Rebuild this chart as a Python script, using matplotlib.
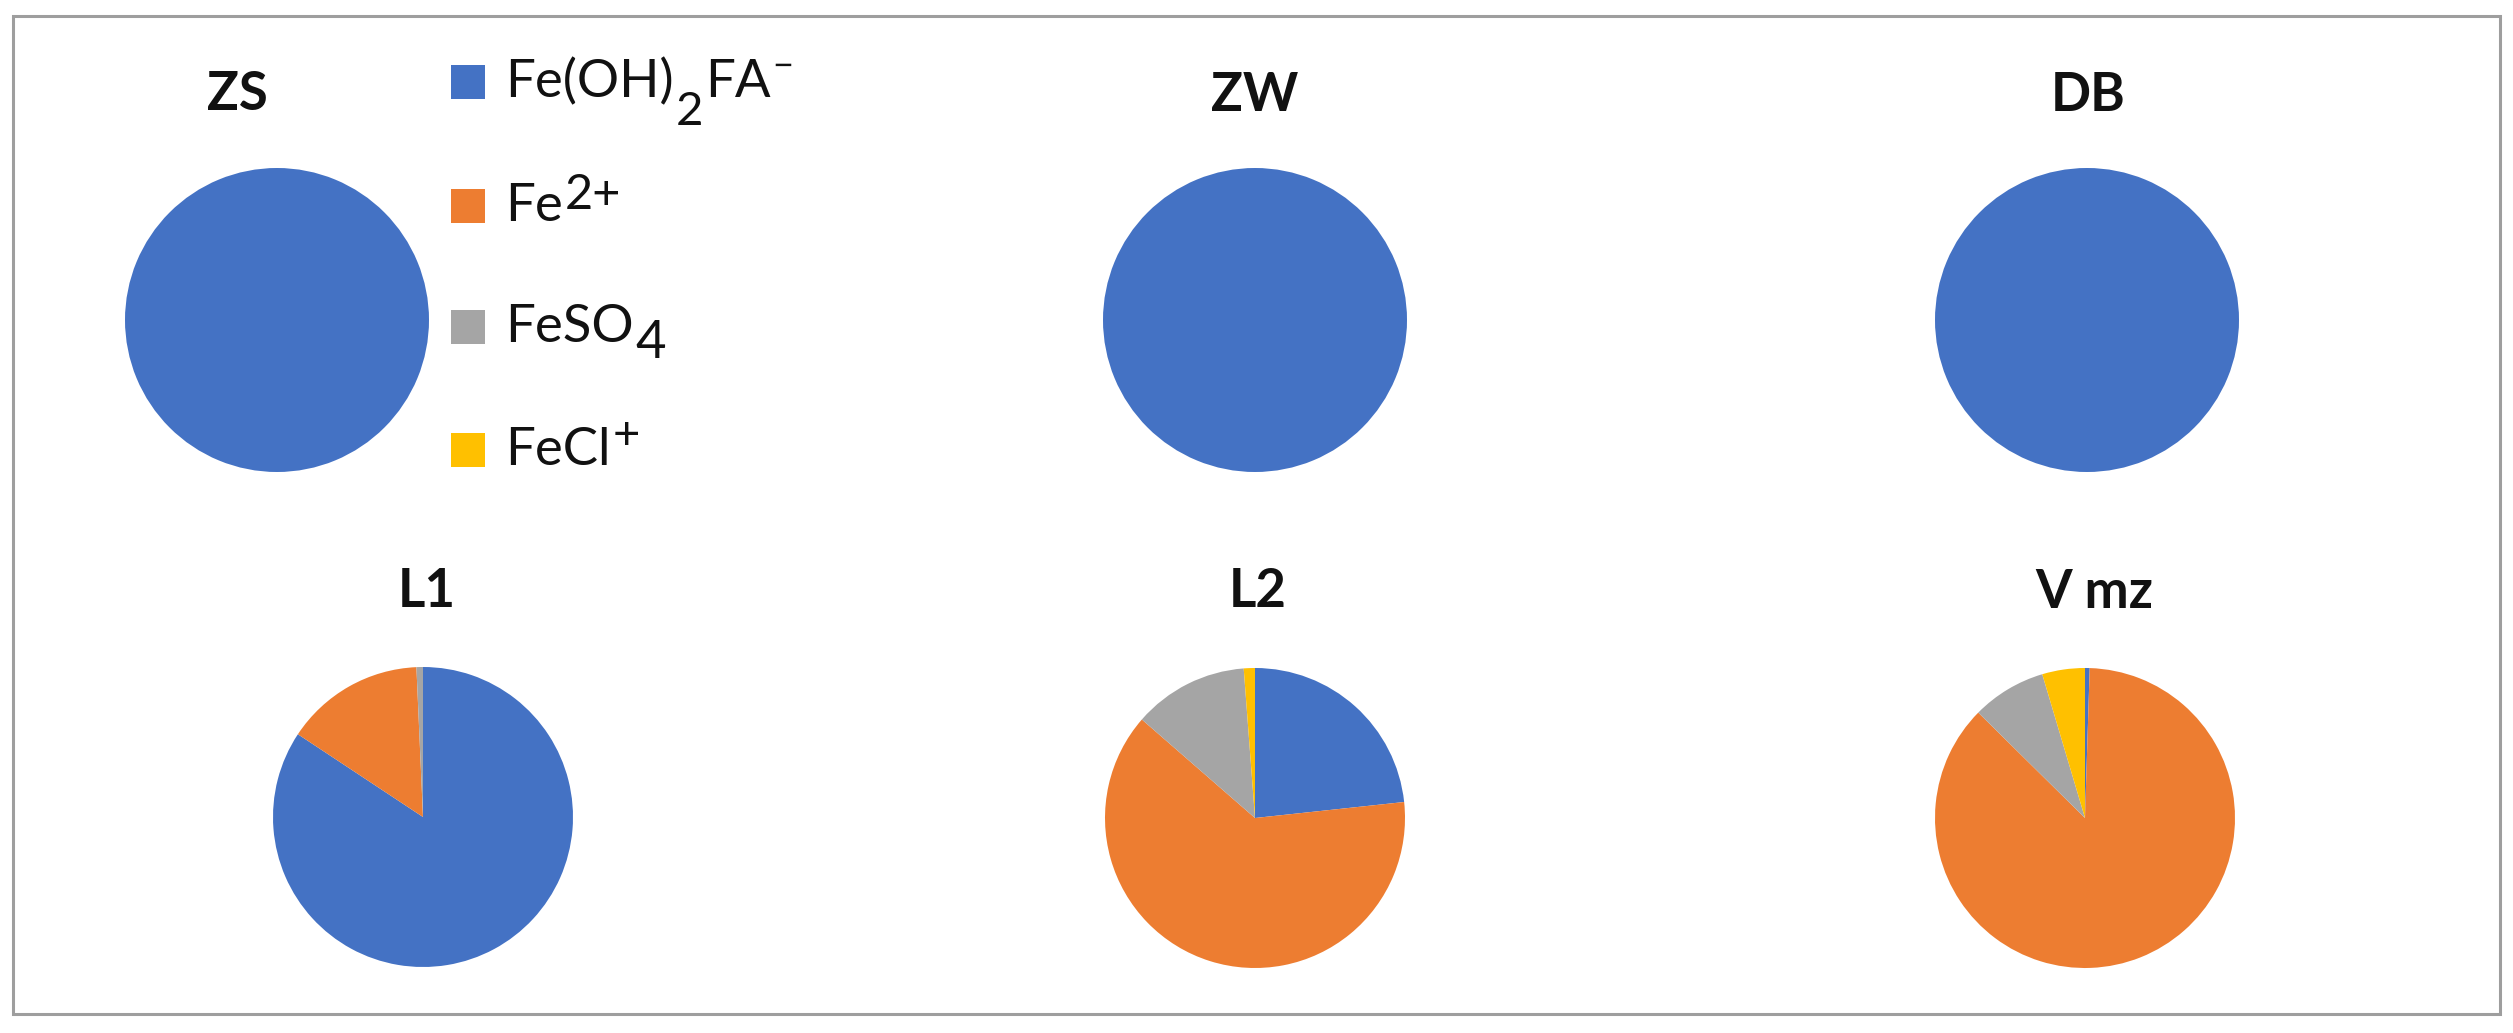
import matplotlib
matplotlib.use('Agg')
import matplotlib.pyplot as plt
from matplotlib.patches import Rectangle

plt.rcParams['font.family'] = ['Lato', 'DejaVu Sans']

# species shares (%) at each site
sites = ['ZS', 'ZW', 'DB', 'L1', 'L2', 'V mz']
species = ['Fe(OH)2FA-', 'Fe2+', 'FeSO4', 'FeCl+']
fe_oh2_fa = [100, 100, 100, 84.3, 23.3, 0.5]
fe2 = [0, 0, 0, 15.0, 63.1, 86.9]
feso4 = [0, 0, 0, 0.7, 12.4, 8.0]
fecl = [0, 0, 0, 0.0, 1.2, 4.6]
colors = ['#4472C4', '#ED7D31', '#A5A5A5', '#FFC000']

# how each legend label is typeset: (text, baseline shift px, size pt)
label_parts = [
    [('Fe(OH)', 0, 38), ('2', 28, 34), ('FA', 0, 38), ('\u2212', -20, 26)],
    [('Fe', 0, 38), ('2+', -12, 35)],
    [('FeSO', 0, 38), ('4', 16, 38)],
    [('FeCl', 0, 38), ('+', -16, 34)],
]

W, H = 2513, 1033
fig = plt.figure(figsize=(W / 100, H / 100), dpi=100)
renderer = fig.canvas.get_renderer()

# pie centres / radius in pixels, title anchors (centre x, baseline y)
centres = [(277, 320), (1255, 320), (2087, 320), (423, 817), (1255, 818), (2085, 818)]
radii = [152, 152, 152, 150, 150, 150]
title_pos = [(237, 110), (1255, 111), (2088, 111), (427, 607), (1258, 607), (2094, 608)]

for i, site in enumerate(sites):
    cx, cy = centres[i]
    r = radii[i]
    ax = fig.add_axes([(cx - r) / W, 1 - (cy + r) / H, 2 * r / W, 2 * r / H])
    vals = [fe_oh2_fa[i], fe2[i], feso4[i], fecl[i]]
    ax.pie(vals, colors=colors, startangle=90, counterclock=False, radius=1,
           wedgeprops=dict(linewidth=0))
    ax.set_xlim(-1, 1)
    ax.set_ylim(-1, 1)
    ax.set_aspect('equal')
    ax.axis('off')
    tx, ty = title_pos[i]
    fig.text(tx / W, 1 - ty / H, site, ha='center', va='baseline',
             fontsize=38, fontweight='bold', color='#111111')

# legend, built by hand so sub/superscripts stay large like the original
baselines = [97, 221, 342, 465]
for k, parts in enumerate(label_parts):
    b = baselines[k]
    fig.patches.append(Rectangle((451 / W, 1 - (b + 2) / H), 34 / W, 34 / H,
                                 transform=fig.transFigure,
                                 facecolor=colors[k], edgecolor='none'))
    x = 505
    for s, dy, size in parts:
        t = fig.text(x / W, 1 - (b + dy) / H, s, fontsize=size,
                     va='baseline', ha='left', color='#111111')
        x += t.get_window_extent(renderer).width + 2

# outer frame
fig.patches.append(Rectangle((13 / W, 1 - 1014 / H), 2487 / W, 998 / H,
                             transform=fig.transFigure, fill=False,
                             edgecolor='#9E9E9E', linewidth=2.2))

fig.savefig('out.png', dpi=100)
